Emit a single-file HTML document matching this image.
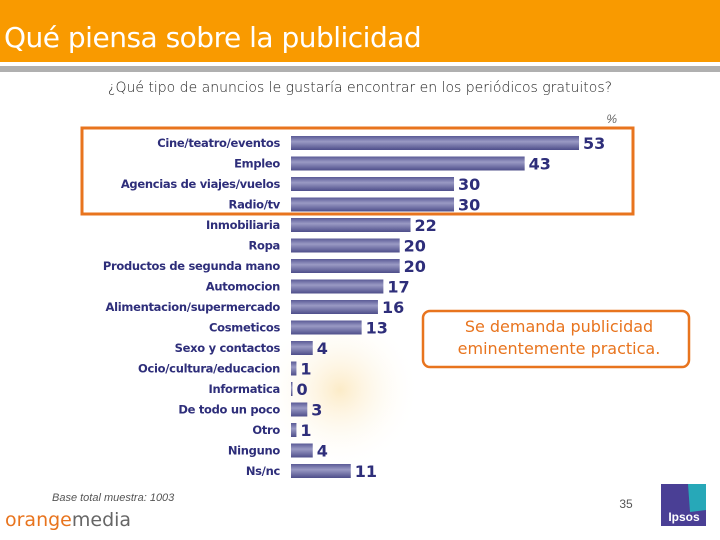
<!DOCTYPE html>
<html><head><meta charset="utf-8"><style>
body{margin:0;width:720px;height:540px;overflow:hidden;background:#fff;font-family:"Liberation Sans","DejaVu Sans",sans-serif;position:relative}
#hdr{position:absolute;left:0;top:0;width:720px;height:62px;background:#f99a00}
#title{position:absolute;left:4px;top:21px;color:#fff;font-size:28px;font-family:"DejaVu Sans",sans-serif;letter-spacing:-0.5px}
#gray{position:absolute;left:0;top:66px;width:720px;height:6px;background:#b0b0b0}
</style></head><body>
<div id="hdr"><div id="title">Qué piensa sobre la publicidad</div></div>
<div id="gray"></div>
<svg id="chart" width="720" height="540" style="position:absolute;left:0;top:0">
<defs><linearGradient id="bg" x1="0" y1="0" x2="0" y2="1">
<stop offset="0" stop-color="#5a5a96"/><stop offset="0.4" stop-color="#9a9ac4"/><stop offset="1" stop-color="#4e4e8a"/></linearGradient>
<radialGradient id="orb" cx="0.5" cy="0.5" r="0.5"><stop offset="0" stop-color="#fbe3b0"/><stop offset="1" stop-color="#fff" stop-opacity="0"/></radialGradient></defs>
<circle cx="340" cy="390" r="80" fill="url(#orb)" opacity="0.7"/>
<text x="360" y="92" text-anchor="middle" font-size="14" fill="#222" font-family="DejaVu Sans" font-weight="200">¿Qué tipo de anuncios le gustaría encontrar en los periódicos gratuitos?</text>
<text x="617" y="123" text-anchor="end" font-size="12" fill="#666" font-style="italic">%</text>
<g id="bars"></g>
<rect x="82" y="128" width="551" height="86" fill="none" stroke="#e8741e" stroke-width="3"/>
<rect x="423" y="311" width="266" height="56" rx="7" fill="#fff" stroke="#e8741e" stroke-width="2.5"/>
<text x="559" y="332" text-anchor="middle" font-size="16" fill="#e8741e" font-family="DejaVu Sans">Se demanda publicidad</text>
<text x="559" y="354" text-anchor="middle" font-size="16" fill="#e8741e" font-family="DejaVu Sans">eminentemente practica.</text>
<text x="52" y="501" font-size="11" fill="#555" font-style="italic">Base total muestra: 1003</text>
<text x="5" y="526" font-size="19" font-family="DejaVu Sans"><tspan fill="#e8741e">orange</tspan><tspan fill="#666">media</tspan></text>
<text x="626" y="508" text-anchor="middle" font-size="12" fill="#555">35</text>
<rect x="661" y="484" width="45" height="42" fill="#4a3f95"/>
<path d="M688 484 L706 484 L706 510 L690 512 Z" fill="#27a8b8"/>
<text x="684" y="521" text-anchor="middle" font-size="12" font-weight="bold" fill="#fff">Ipsos</text>
</svg>
<script>
const categories=["Cine/teatro/eventos","Empleo","Agencias de viajes/vuelos","Radio/tv","Inmobiliaria","Ropa","Productos de segunda mano","Automocion","Alimentacion/supermercado","Cosmeticos","Sexo y contactos","Ocio/cultura/educacion","Informatica","De todo un poco","Otro","Ninguno","Ns/nc"];
const values=[53,43,30,30,22,20,20,17,16,13,4,1,0,3,1,4,11];
const x0=291, pxPer=288/53, y0=143, step=20.5, bh=14;
const xs=v=>x0+v*pxPer;
const ys=i=>y0+i*step;
const g=document.getElementById('bars');
const NS='http://www.w3.org/2000/svg';
categories.forEach((c,i)=>{
  const cy=ys(i);
  const t=document.createElementNS(NS,'text');
  
  
  t.setAttribute('x',280);t.setAttribute('y',cy+4);t.setAttribute('text-anchor','end');
  t.setAttribute('font-size','11.5');t.setAttribute('font-weight','bold');t.setAttribute('fill','#2e2e7a');
  t.setAttribute('font-family','DejaVu Sans');t.setAttribute('letter-spacing','-0.3');
  t.textContent=c;g.appendChild(t);
  const w=Math.max(xs(values[i])-x0,1.5);
  const r=document.createElementNS(NS,'rect');
  
  
  r.setAttribute('x',x0);r.setAttribute('y',cy-bh/2);r.setAttribute('width',w);r.setAttribute('height',bh);
  r.setAttribute('fill','url(#bg)');g.appendChild(r);
  const v=document.createElementNS(NS,'text');
  
  
  v.setAttribute('x',x0+w+4);v.setAttribute('y',cy+6);
  v.setAttribute('font-size','16');v.setAttribute('font-weight','bold');v.setAttribute('fill','#2e2e7a');
  v.setAttribute('font-family','DejaVu Sans');
  v.textContent=values[i];g.appendChild(v);
});
</script>
</body></html>
